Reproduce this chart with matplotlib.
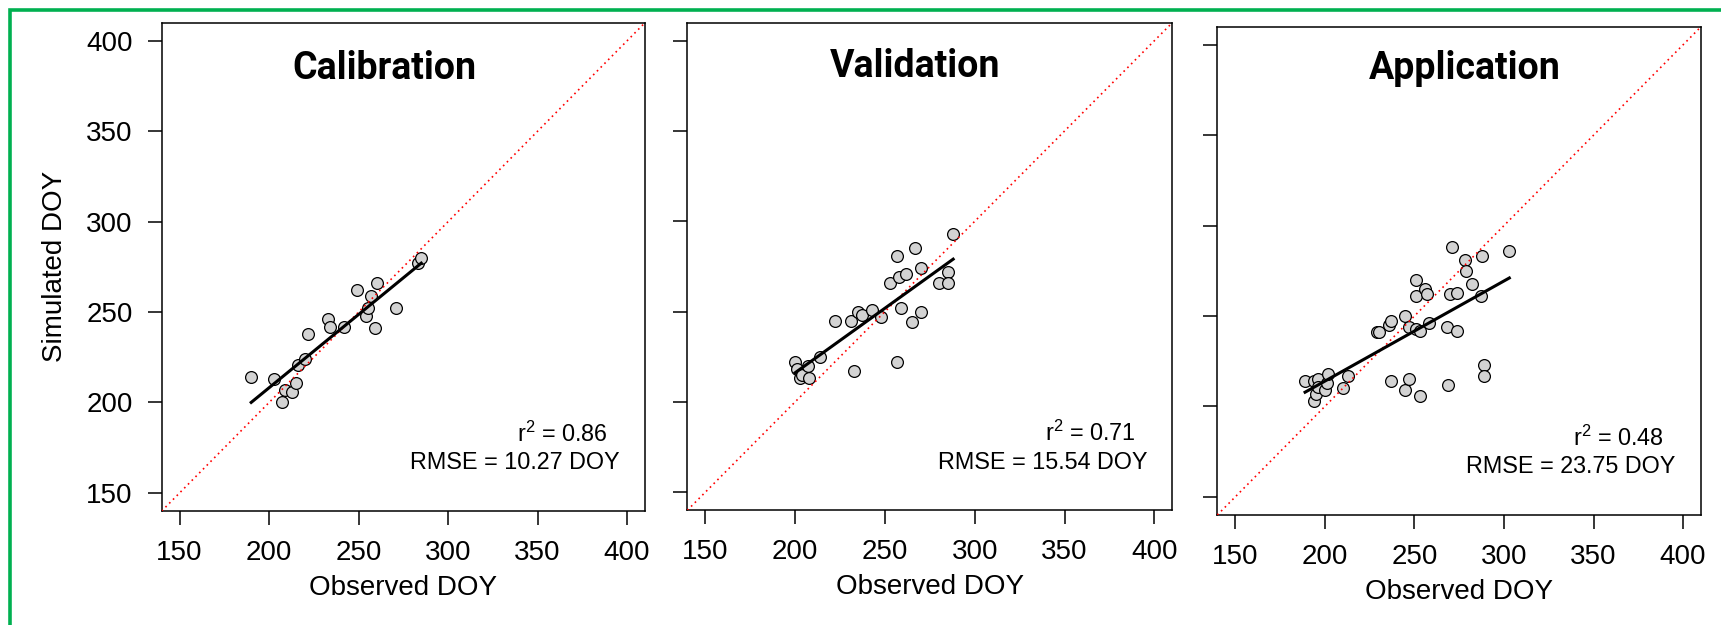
import numpy as np
import matplotlib.pyplot as plt
from matplotlib.lines import Line2D

plt.rcParams['font.family'] = ['Liberation Sans', 'DejaVu Sans']
plt.rcParams['mathtext.fontset'] = 'custom'
plt.rcParams['mathtext.rm'] = 'Liberation Sans'

# наблюдаемые и смоделированные даты (день года):
calib_obs = [190, 203, 207, 209, 213, 215, 216, 220, 222, 233, 234, 242, 249, 254, 255, 257, 259, 260, 271, 283, 285]
calib_sim = [214, 213, 200, 207, 206, 211, 221, 224, 238, 246, 242, 242, 262, 248, 252, 259, 241, 266, 252, 277, 280]

valid_obs = [200, 201, 203, 204, 207, 208, 214, 222, 231, 233, 235, 237, 243, 248,
             253, 257, 257, 258, 259, 262, 265, 267, 270, 270, 280, 285, 285, 288]
valid_sim = [222, 218, 213, 215, 220, 213, 225, 245, 245, 217, 250, 248, 251, 247,
             266, 281, 222, 269, 252, 271, 244, 285, 274, 250, 266, 272, 266, 293]

appl_obs = [189, 194, 194, 195, 196, 196, 200, 201, 202, 210, 213, 229, 230, 236, 237, 237, 245, 245, 247, 247, 251,
            251, 251, 253, 253, 256, 257, 258, 268, 269, 270, 271, 274, 274, 278, 279, 282, 287, 288, 289, 289, 303]
appl_sim = [214, 214, 203, 207, 215, 211, 209, 213, 218, 210, 217, 241, 241, 245, 247, 214, 250, 209, 215, 244, 261,
            243, 270, 242, 206, 265, 262, 246, 244, 212, 262, 288, 242, 263, 281, 275, 268, 261, 283, 223, 217, 286]

titles = ['Calibration', 'Validation', 'Application']
r2_values = ['0.86', '0.71', '0.48']
rmse_values = ['10.27', '15.54', '23.75']
ticks = [150, 200, 250, 300, 350, 400]

# положение панелей в пикселях (left, bottom, width, height):
W, H = 1721, 625
boxes = [(161.7, 511.0, 483.3, 488.3),
         (687.3, 510.3, 485.0, 487.6),
         (1217.3, 515.0, 483.7, 488.3)]
title_x = [0.461, 0.4705, 0.5115]
title_y = [0.907, 0.910, 0.915]


def draw_panel(ax, obs, sim, idx):
    obs = np.array(obs)
    sim = np.array(sim)
    ax.set_xlim(140, 410)
    ax.set_ylim(140, 410)
    ax.scatter(obs, sim, s=72, facecolor='#d3d3d3', edgecolor='black', linewidth=0.9, zorder=2)
    # линия 1:1:
    ax.axline((140, 140), slope=1, color='red', linestyle=(0, (1, 2.2)), linewidth=1.2, zorder=3)
    # линейная регрессия:
    k, b = np.polyfit(obs, sim, 1)
    xs = np.array([obs.min(), obs.max()])
    ax.plot(xs, k * xs + b, color='black', linewidth=2.2, zorder=4)

    ax.set_xticks(ticks)
    ax.set_yticks(ticks)
    ax.tick_params(direction='out', length=10, width=1.1, labelsize=20, pad=11)
    if idx > 0:
        ax.tick_params(axis='y', labelleft=False)
    for sp in ax.spines.values():
        sp.set_linewidth(1.1)

    ax.set_xlabel('Observed DOY', fontsize=20, va='center')
    ax.xaxis.set_label_coords(0.5, -0.158)
    if idx == 0:
        ax.set_ylabel('Simulated DOY', fontsize=20, va='center')
        ax.yaxis.set_label_coords(-0.221, 0.5)

    ax.text(title_x[idx], title_y[idx], titles[idx], transform=ax.transAxes, ha='center', va='center',
            fontsize=27, fontweight='bold', family=['Roboto', 'DejaVu Sans'])
    ax.text(0.924, 0.157, r'$\mathregular{r^2}$ = ' + r2_values[idx], transform=ax.transAxes,
            ha='right', va='center', fontsize=16.8)
    ax.text(0.948, 0.0985, 'RMSE = ' + rmse_values[idx] + ' DOY', transform=ax.transAxes,
            ha='right', va='center', fontsize=16.8)


fig = plt.figure(figsize=(W / 100, H / 100), dpi=100)
data = [(calib_obs, calib_sim), (valid_obs, valid_sim), (appl_obs, appl_sim)]
for i, (l, bot, w, h) in enumerate(boxes):
    ax = fig.add_axes([l / W, (H - bot) / H, w / W, h / H])
    draw_panel(ax, data[i][0], data[i][1], i)

# зелёная рамка сверху и слева:
top = 1 - 10 / H
left = 10 / W
fig.add_artist(Line2D([1.0, left, left], [top, top, 0.0], transform=fig.transFigure,
                      color='#00b050', linewidth=2.6, solid_joinstyle='miter'))

fig.savefig('out.png', dpi=100)
